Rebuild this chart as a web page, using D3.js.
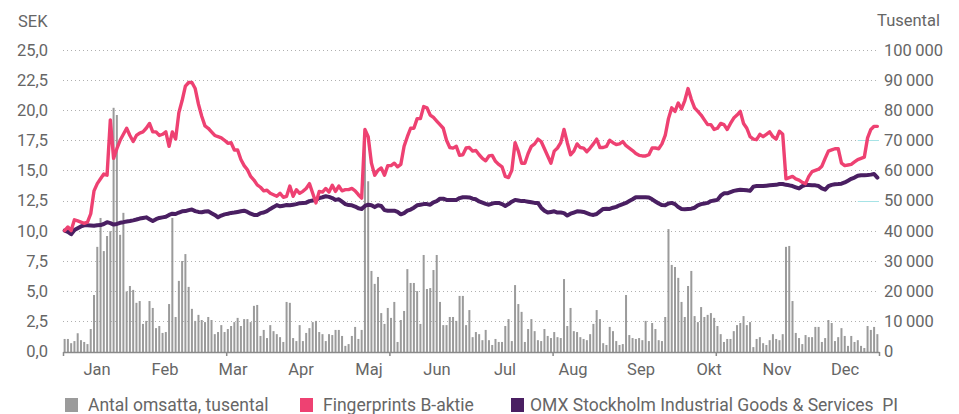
<!DOCTYPE html>
<html><head><meta charset="utf-8">
<script src="https://cdn.jsdelivr.net/npm/d3@7"></script>
<style>
html,body{margin:0;padding:0;background:#fff;}
svg text{font-family:Roboto,"Noto Sans",sans-serif;fill:#666;}
</style></head>
<body>
<svg id="chart" width="959" height="414"></svg>
<script>
const months = ["Jan","Feb","Mar","Apr","Maj","Jun","Jul","Aug","Sep","Okt","Nov","Dec"];
const leftTicks = [0,2.5,5,7.5,10,12.5,15,17.5,20,22.5,25];
const rightTicks = [0,10000,20000,30000,40000,50000,60000,70000,80000,90000,100000];
const seriesNames = ["Antal omsatta, tusental","Fingerprints B-aktie","OMX Stockholm Industrial Goods & Services  PI"];
const refLevels = [17.5, 12.5];

// Antal omsatta, tusental (right axis)
const volume = [
4000,4000,2600,3300,5900,3600,3000,2300,7300,18600,34600,44200,33200,38200,39800,80800,78400,38600,45900,19800,
21600,20300,16000,16600,9000,10000,16600,14300,7600,8300,6000,6300,15600,44200,11300,23300,29900,32200,21300,14000,
10000,12000,10300,9600,11300,10300,5600,6300,8600,6300,7300,8300,9600,11000,8300,10600,10600,9600,15000,15300,
5000,7000,4300,8600,6600,5600,4600,3000,16300,16000,4300,3300,8600,3300,6000,7600,9600,10000,6300,5600,
3300,5600,5300,7000,7000,5000,1700,2300,5000,8000,4000,7000,69200,56400,26600,22300,24600,12600,9000,14300,
11000,16300,3000,10300,13300,27200,22600,22600,19900,9000,31900,20600,20900,26900,31900,16300,8600,8600,11300,11300,
10000,18300,18300,8600,13600,4600,6300,5600,3600,7000,3600,2000,4000,3000,3000,8300,10600,3300,21900,15600,
13000,3000,7300,10600,6600,3600,3300,7300,5000,4300,6300,4600,4300,23900,8300,14300,6600,6300,4600,4000,
3600,5600,9000,13600,10600,2600,2000,8000,6600,3300,2000,2300,18600,5300,4300,4000,4300,3600,10000,3300,
9300,7300,3600,3300,11300,40500,28600,27900,24300,16300,11300,21600,26600,11600,9600,14600,11300,12000,12600,11000,
8300,5600,3000,4000,4000,6600,8600,9300,11600,8600,9600,1300,4000,4600,2600,2000,3600,5600,4000,3600,
5600,34600,34900,16600,6000,4300,2300,5300,4600,4600,8000,8000,3000,4300,10300,9300,3300,4600,7600,5000,
1700,5000,3000,3600,1700,1000,8300,7000,8000,5600
];

// Fingerprints B-aktie, SEK
const fpc = [
10.0,10.3,10.0,10.9,10.8,10.7,10.6,10.7,11.4,13.3,13.9,14.3,14.7,14.6,19.2,16.0,16.8,17.5,18.0,18.5,
17.9,17.4,17.9,18.1,18.2,18.5,18.9,18.2,18.2,17.9,18.0,18.2,17.0,18.2,17.6,19.8,20.8,22.0,22.3,22.3,
21.8,20.5,19.5,18.7,18.5,18.2,17.9,17.8,17.7,17.5,17.25,17.3,16.7,16.7,15.9,15.4,15.05,14.5,14.2,13.8,
13.6,13.3,13.35,13.1,12.98,12.85,13.1,12.77,12.85,13.7,12.85,13.4,13.1,13.26,13.5,13.9,13.1,12.3,13.26,13.2,
13.5,13.2,13.76,13.26,13.7,13.3,13.4,13.4,13.5,13.3,12.98,12.7,18.4,17.8,15.6,14.6,15.0,15.2,14.6,15.4,
15.4,15.6,15.3,15.5,17.0,17.8,18.5,18.5,19.3,19.3,20.3,20.2,19.6,19.4,19.1,18.8,18.5,17.5,16.9,16.85,
17.0,16.25,16.3,16.86,16.9,16.6,16.65,16.3,16.0,15.8,16.2,16.25,15.75,15.5,15.3,14.5,14.4,15.0,17.3,16.6,
15.6,15.6,16.4,17.0,17.2,17.6,17.4,16.8,16.2,15.6,16.6,16.86,17.3,18.4,17.3,16.3,16.6,17.2,16.9,16.85,
16.55,16.86,17.2,17.6,16.9,16.9,17.0,17.5,17.3,17.15,17.2,17.4,17.05,16.85,16.65,16.4,16.25,16.2,16.2,16.3,
16.86,16.86,16.8,17.2,17.9,19.3,20.2,19.9,20.6,20.1,20.8,21.8,20.9,20.2,19.9,19.6,19.2,18.8,18.8,18.4,
18.5,18.9,18.8,18.4,18.9,19.35,19.6,19.9,18.9,18.5,17.8,17.6,17.55,18.0,17.8,18.0,18.2,17.8,17.6,18.25,
18.0,14.3,14.4,14.5,14.3,14.2,14.0,13.9,14.5,14.9,15.0,15.1,15.35,16.0,16.6,16.7,16.8,16.8,15.6,15.4,
15.45,15.5,15.7,15.9,16.0,16.1,17.7,18.4,18.66,18.66
];

// OMX Stockholm Industrial Goods & Services PI (indexed to SEK scale)
const omx = [
10.0,9.9,9.7,10.05,10.2,10.35,10.44,10.44,10.42,10.4,10.44,10.46,10.55,10.7,10.62,10.5,10.55,10.65,10.7,10.76,
10.8,10.85,10.92,11.0,11.05,11.1,10.95,10.8,10.95,11.05,11.1,11.15,11.3,11.4,11.38,11.5,11.6,11.62,11.7,11.75,
11.62,11.55,11.52,11.58,11.6,11.45,11.3,11.1,11.25,11.35,11.4,11.47,11.5,11.55,11.6,11.65,11.55,11.4,11.3,11.3,
11.45,11.5,11.62,11.8,11.95,12.12,12.02,12.07,12.12,12.1,12.15,12.2,12.28,12.3,12.32,12.45,12.5,12.55,12.7,12.77,
12.85,12.8,12.7,12.55,12.6,12.4,12.2,12.12,12.1,12.0,11.85,11.8,12.05,12.15,12.1,11.95,12.1,12.05,11.7,11.65,
11.65,11.65,11.55,11.35,11.45,11.65,11.75,11.9,12.1,12.15,12.2,12.2,12.15,12.35,12.45,12.65,12.65,12.55,12.55,12.55,
12.55,12.7,12.77,12.77,12.75,12.65,12.6,12.42,12.32,12.22,12.15,12.25,12.3,12.3,12.2,12.05,12.2,12.4,12.55,12.5,
12.45,12.45,12.4,12.35,12.3,12.3,11.9,11.65,11.5,11.55,11.6,11.5,11.5,11.45,11.25,11.4,11.5,11.6,11.58,11.55,
11.45,11.35,11.3,11.38,11.6,11.8,11.82,11.8,11.9,11.97,12.1,12.2,12.3,12.45,12.6,12.77,12.77,12.77,12.77,12.75,
12.6,12.42,12.25,12.12,12.1,12.25,12.3,12.2,11.95,11.8,11.78,11.8,11.82,11.9,12.1,12.2,12.25,12.3,12.45,12.5,
12.55,12.9,13.1,13.1,13.2,13.3,13.35,13.4,13.38,13.35,13.3,13.65,13.7,13.7,13.7,13.73,13.76,13.78,13.8,13.87,
13.87,13.8,13.76,13.7,13.6,13.5,13.7,13.8,13.78,13.76,13.76,13.7,13.5,13.4,13.7,13.8,13.85,13.87,13.9,14.0,
14.15,14.3,14.4,14.55,14.6,14.6,14.62,14.65,14.7,14.4
];

const colors = {bar:"#9b9b9b", fpc:"#ee4172", omx:"#4a1f62", grid:"#b0b0b0", axis:"#8a8a8a", ref:"#a6e3e6"};
const N = volume.length;
const pLeft = 63, pRight = 879, pTop = 50, pBottom = 351;

const svg = d3.select("#chart");
const x = d3.scaleLinear().domain([0, N]).range([pLeft, pRight]);
const yL = d3.scaleLinear().domain([0, 25]).range([pBottom, pTop]);
const yR = d3.scaleLinear().domain([0, 100000]).range([pBottom, pTop]);
const xm = d3.scaleBand().domain(months).range([pLeft, pRight]);

// gridlines
svg.append("g").selectAll("line").data(leftTicks.filter(d => d > 0)).join("line")
  .attr("x1", pLeft).attr("x2", 876)
  .attr("y1", d => Math.round(yL(d)) + 0.5).attr("y2", d => Math.round(yL(d)) + 0.5)
  .attr("stroke", colors.grid).attr("stroke-width", 1).attr("stroke-dasharray", "1,3");

// faint reference marks at right
svg.append("g").selectAll("line").data(refLevels).join("line")
  .attr("x1", x(243.5)).attr("x2", x(N))
  .attr("y1", d => Math.round(yL(d)) + 0.5).attr("y2", d => Math.round(yL(d)) + 0.5)
  .attr("stroke", colors.ref).attr("stroke-width", 1);

// bars
svg.append("g").selectAll("rect").data(volume).join("rect")
  .attr("x", (d, i) => x(i + 0.5) - 1)
  .attr("width", 2)
  .attr("y", d => yR(d))
  .attr("height", d => yR(0) - yR(d) + 1)
  .attr("fill", colors.bar);

// x axis
const xAxis = svg.append("g").attr("transform", `translate(0,${pBottom + 1})`)
  .call(d3.axisBottom(x).tickValues(d3.range(0, N + 1, 50)).tickFormat("").tickSize(4).tickSizeOuter(0));
xAxis.select(".domain").attr("stroke", colors.axis).attr("stroke-width", 1.5);
xAxis.selectAll(".tick line").attr("stroke", colors.axis).attr("stroke-width", 1.5);

// lines
const line = d3.line().x((d, i) => x(i + 0.5)).y(d => yL(d)).curve(d3.curveLinear);
svg.append("path").datum(omx).attr("d", line).attr("fill", "none")
  .attr("stroke", colors.omx).attr("stroke-width", 4).attr("stroke-linejoin", "round").attr("stroke-linecap", "round");
svg.append("path").datum(fpc).attr("d", line).attr("fill", "none")
  .attr("stroke", colors.fpc).attr("stroke-width", 3.4).attr("stroke-linejoin", "round").attr("stroke-linecap", "round");

// left labels
const fmtL = d => d3.format(".1f")(d).replace(".", ",");
svg.append("g").selectAll("text").data(leftTicks).join("text")
  .attr("x", 48).attr("y", d => yL(d)).attr("dy", "0.36em")
  .attr("text-anchor", "end").attr("font-size", 16.5).text(fmtL);

// right labels
const fmtR = d => d3.format(",")(d).replace(/,/g, "\u2009");
svg.append("g").selectAll("text").data(rightTicks).join("text")
  .attr("x", 884).attr("y", d => yR(d)).attr("dy", "0.36em")
  .attr("text-anchor", "start").attr("font-size", 16.5).text(fmtR);

// axis titles
svg.append("text").attr("x", 18).attr("y", 27).attr("font-size", 16.5).text("SEK");
svg.append("text").attr("x", 940).attr("y", 26).attr("text-anchor", "end").attr("font-size", 16.5).text("Tusental");

// month labels
svg.append("g").selectAll("text").data(months).join("text")
  .attr("x", d => xm(d) + xm.bandwidth() / 2).attr("y", 375)
  .attr("text-anchor", "middle").attr("font-size", 16.5).text(d => d);

// legend
const legend = [
  {name: seriesNames[0], color: colors.bar, sx: 65, tx: 88},
  {name: seriesNames[1], color: colors.fpc, sx: 300, tx: 323},
  {name: seriesNames[2], color: colors.omx, sx: 511, tx: 530}
];
const lg = svg.append("g");
lg.selectAll("rect").data(legend).join("rect")
  .attr("x", d => d.sx).attr("y", 398).attr("width", 13).attr("height", 14).attr("fill", d => d.color);
lg.selectAll("text").data(legend).join("text")
  .attr("x", d => d.tx).attr("y", 411).attr("font-size", 17.5)
  .attr("xml:space", "preserve").style("white-space", "pre").text(d => d.name);
</script>
</body></html>
